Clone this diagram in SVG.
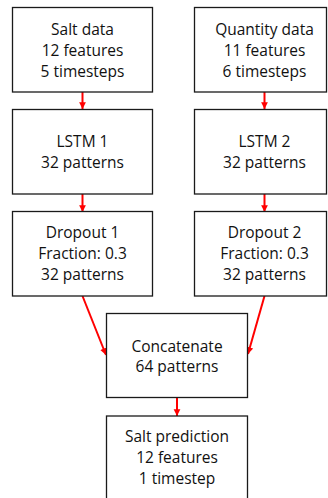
<svg xmlns="http://www.w3.org/2000/svg" width="328" height="498" viewBox="0 0 328 498">
<defs>
<style>
.box{fill:#fff;stroke:#1a1a1a;stroke-width:1.3}
.t{font-family:"Open Sans","Noto Sans",sans-serif;font-size:15.5px;fill:#111;text-anchor:middle}
.c{stroke:#f00;stroke-width:2;fill:none;marker-end:url(#ah)}
</style>
<marker id="ah" viewBox="0 0 10 10" refX="10" refY="5" markerWidth="3.4" markerHeight="3.8" orient="auto" markerUnits="strokeWidth">
<path d="M0,0 L10,5 L0,10 z" fill="#f00"/>
</marker>
</defs>
<rect width="328" height="498" fill="#fff"/>
<g id="connectors">
<line class="c" x1="82.5" y1="92" x2="82.5" y2="109"/>
<line class="c" x1="264.5" y1="92" x2="264.5" y2="109"/>
<line class="c" x1="82.5" y1="194" x2="82.5" y2="212"/>
<line class="c" x1="264.5" y1="194" x2="264.5" y2="212"/>
<line class="c" x1="82.5" y1="296" x2="106" y2="355"/>
<line class="c" x1="264.5" y1="296" x2="248" y2="354"/>
<line class="c" x1="177" y1="397" x2="177" y2="416"/>
</g>
<g id="salt-data">
<rect class="box" x="12.5" y="7.5" width="140" height="84.5"/>
<text class="t" x="82.5" y="34.5">Salt data</text>
<text class="t" x="82.5" y="55.5">12 features</text>
<text class="t" x="82.5" y="76.5">5 timesteps</text>
</g>
<g id="quantity-data">
<rect class="box" x="194.5" y="7.5" width="132" height="84.5"/>
<text class="t" x="264.5" y="34.5">Quantity data</text>
<text class="t" x="264.5" y="55.5">11 features</text>
<text class="t" x="264.5" y="76.5">6 timesteps</text>
</g>
<g id="lstm1">
<rect class="box" x="12.5" y="109.5" width="140" height="84.5"/>
<text class="t" x="82.5" y="147">LSTM 1</text>
<text class="t" x="82.5" y="168">32 patterns</text>
</g>
<g id="lstm2">
<rect class="box" x="194.5" y="109.5" width="132" height="84.5"/>
<text class="t" x="264.5" y="147">LSTM 2</text>
<text class="t" x="264.5" y="168">32 patterns</text>
</g>
<g id="dropout1">
<rect class="box" x="12.5" y="211.5" width="140" height="84.5"/>
<text class="t" x="82.5" y="238">Dropout 1</text>
<text class="t" x="82.5" y="259">Fraction: 0.3</text>
<text class="t" x="82.5" y="280">32 patterns</text>
</g>
<g id="dropout2">
<rect class="box" x="194.5" y="211.5" width="132" height="84.5"/>
<text class="t" x="264.5" y="238">Dropout 2</text>
<text class="t" x="264.5" y="259">Fraction: 0.3</text>
<text class="t" x="264.5" y="280">32 patterns</text>
</g>
<g id="concatenate">
<rect class="box" x="106.5" y="313.5" width="141" height="84"/>
<text class="t" x="177" y="351.5">Concatenate</text>
<text class="t" x="177" y="372">64 patterns</text>
</g>
<g id="salt-prediction">
<rect class="box" x="106.5" y="416" width="141" height="90"/>
<text class="t" x="177" y="442">Salt prediction</text>
<text class="t" x="177" y="463">12 features</text>
<text class="t" x="177" y="484">1 timestep</text>
</g>
</svg>
